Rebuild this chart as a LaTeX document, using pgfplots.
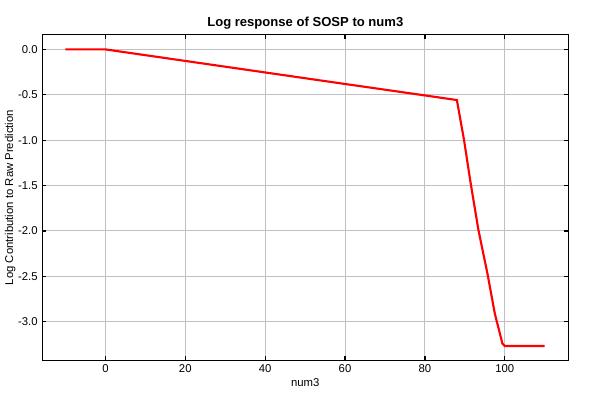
\documentclass[border=0pt]{standalone}
\usepackage{fontspec}
\setmainfont{Liberation Sans}
\usepackage{pgfplots}
\pgfplotsset{compat=1.18}
\definecolor{gridgray}{RGB}{192,192,192}
\begin{document}
\begin{tikzpicture}[x=0.75pt,y=0.75pt]
\useasboundingbox (0,0) rectangle (600,400);
\begin{axis}[
  at={(42.3*0.75pt,39.7*0.75pt)}, anchor=south west,
  scale only axis,
  width=526*0.75pt, height=325.6*0.75pt,
  xmin=-15.8, xmax=115.9,
  ymin=-3.425, ymax=0.162,
  xtick={0,20,...,100},
  ytick={-3,-2.5,...,0},
  grid=major,
  major grid style={gridgray, line width=0.75pt},
  axis line style={black, line width=0.9pt},
  tick style={black, line width=0.9pt},
  major tick length=3pt,
  tick align=inside,
  /pgf/number format/assume math mode=true,
  yticklabel style={/pgf/number format/.cd, fixed, fixed zerofill, precision=1},
  ticklabel style={font=\fontsize{8.5}{10}\selectfont},
  title={\textbf{Log response of SOSP to num3}},
  title style={font=\fontsize{9.8}{11}\selectfont, yshift=-5.5pt},
  xlabel={num3},
  ylabel={Log Contribution to Raw Prediction},
  label style={font=\fontsize{8.5}{10}\selectfont},
  xlabel style={yshift=3pt},
  ylabel style={yshift=-5pt},
]
\addplot[red, line width=1.6pt] coordinates {
(-10,0) (0,0) (20,-0.127) (40,-0.254) (60,-0.381) (80,-0.507) (88,-0.558)
(89.8,-1.0) (91.4,-1.46) (93.4,-1.99) (95.7,-2.48) (97.5,-2.91) (99.4,-3.24) (100,-3.268) (110,-3.268)
};
\end{axis}
\end{tikzpicture}
\end{document}
